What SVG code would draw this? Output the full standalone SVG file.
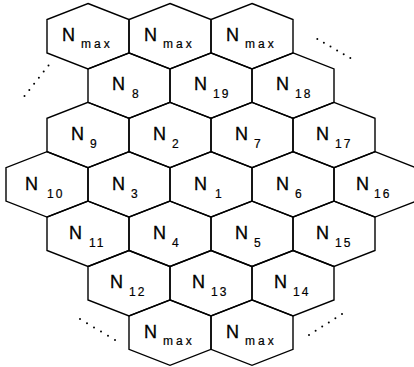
<svg xmlns="http://www.w3.org/2000/svg" xmlns:xlink="http://www.w3.org/1999/xlink" width="414" height="367" viewBox="0 0 414 367">
<style>
.lbl{font-family:"Liberation Sans",Arial,sans-serif;font-size:18px;fill:#000;stroke:#000;stroke-width:0.3}
.sub{font-size:12px;letter-spacing:2px;stroke-width:0.2}
.m{letter-spacing:3px}
.dot{fill:#000}
</style>
<defs>
<polygon id="hex" points="0,-32.7 41,-16.7 41,16.7 0,32.7 -41,16.7 -41,-16.7" fill="none" stroke="#000" stroke-width="1.4" stroke-linejoin="miter"/>
</defs>
<rect width="414" height="367" fill="#fff"/>
<g id="n-max-1"><use href="#hex" x="88" y="36.2"/><text class="lbl" x="62" y="41">N<tspan class="sub m" dx="6" dy="7">max</tspan></text></g>
<g id="n-max-2"><use href="#hex" x="170" y="36.2"/><text class="lbl" x="144" y="41">N<tspan class="sub m" dx="6" dy="7">max</tspan></text></g>
<g id="n-max-3"><use href="#hex" x="252" y="36.2"/><text class="lbl" x="226" y="41">N<tspan class="sub m" dx="6" dy="7">max</tspan></text></g>
<g id="n8"><use href="#hex" x="129" y="85.6"/><text class="lbl" x="112" y="90">N<tspan class="sub" dx="7" dy="7.5">8</tspan></text></g>
<g id="n19"><use href="#hex" x="211" y="85.6"/><text class="lbl" x="194" y="90">N<tspan class="sub" dx="6" dy="7.5">19</tspan></text></g>
<g id="n18"><use href="#hex" x="293" y="85.6"/><text class="lbl" x="276" y="90">N<tspan class="sub" dx="6" dy="7.5">18</tspan></text></g>
<g id="n9"><use href="#hex" x="88" y="135"/><text class="lbl" x="71" y="140">N<tspan class="sub" dx="6" dy="7.5">9</tspan></text></g>
<g id="n2"><use href="#hex" x="170" y="135"/><text class="lbl" x="153" y="140">N<tspan class="sub" dx="6" dy="7.5">2</tspan></text></g>
<g id="n7"><use href="#hex" x="252" y="135"/><text class="lbl" x="235" y="140">N<tspan class="sub" dx="6" dy="7.5">7</tspan></text></g>
<g id="n17"><use href="#hex" x="334" y="135"/><text class="lbl" x="316" y="140">N<tspan class="sub" dx="6" dy="7.5">17</tspan></text></g>
<g id="n10"><use href="#hex" x="47" y="184.4"/><text class="lbl" x="25" y="190">N<tspan class="sub" dx="9" dy="7.5">10</tspan></text></g>
<g id="n3"><use href="#hex" x="129" y="184.4"/><text class="lbl" x="112" y="190">N<tspan class="sub" dx="6" dy="7.5">3</tspan></text></g>
<g id="n1"><use href="#hex" x="211" y="184.4"/><text class="lbl" x="194" y="190">N<tspan class="sub" dx="8" dy="7.5">1</tspan></text></g>
<g id="n6"><use href="#hex" x="293" y="184.4"/><text class="lbl" x="276" y="190">N<tspan class="sub" dx="6" dy="7.5">6</tspan></text></g>
<g id="n16"><use href="#hex" x="375" y="184.4"/><text class="lbl" x="356" y="190">N<tspan class="sub" dx="5" dy="7.5">16</tspan></text></g>
<g id="n11"><use href="#hex" x="88" y="233.8"/><text class="lbl" x="69" y="239">N<tspan class="sub" dx="7" dy="7.5">11</tspan></text></g>
<g id="n4"><use href="#hex" x="170" y="233.8"/><text class="lbl" x="153" y="239">N<tspan class="sub" dx="6" dy="7.5">4</tspan></text></g>
<g id="n5"><use href="#hex" x="252" y="233.8"/><text class="lbl" x="235" y="239">N<tspan class="sub" dx="6" dy="7.5">5</tspan></text></g>
<g id="n15"><use href="#hex" x="334" y="233.8"/><text class="lbl" x="316" y="239">N<tspan class="sub" dx="6" dy="7.5">15</tspan></text></g>
<g id="n12"><use href="#hex" x="129" y="283.2"/><text class="lbl" x="110" y="288">N<tspan class="sub" dx="6" dy="7.5">12</tspan></text></g>
<g id="n13"><use href="#hex" x="211" y="283.2"/><text class="lbl" x="192" y="288">N<tspan class="sub" dx="6" dy="7.5">13</tspan></text></g>
<g id="n14"><use href="#hex" x="293" y="283.2"/><text class="lbl" x="274" y="288">N<tspan class="sub" dx="6" dy="7.5">14</tspan></text></g>
<g id="n-max-4"><use href="#hex" x="170" y="332.6"/><text class="lbl" x="144" y="338">N<tspan class="sub m" dx="6" dy="7">max</tspan></text></g>
<g id="n-max-5"><use href="#hex" x="252" y="332.6"/><text class="lbl" x="226" y="338">N<tspan class="sub m" dx="6" dy="7">max</tspan></text></g>
<g id="connectors">
<g id="dots-tl" class="dot"><circle cx="48.5" cy="65.5" r="1"/><circle cx="43.7" cy="71.6" r="1"/><circle cx="38.9" cy="77.7" r="1"/><circle cx="34.1" cy="83.8" r="1"/><circle cx="29.3" cy="89.9" r="1"/><circle cx="24.5" cy="96" r="1"/></g>
<g id="dots-tr" class="dot"><circle cx="317.3" cy="39" r="1"/><circle cx="323.9" cy="42.8" r="1"/><circle cx="330.5" cy="46.6" r="1"/><circle cx="337.1" cy="50.4" r="1"/><circle cx="343.7" cy="54.2" r="1"/><circle cx="350.3" cy="58" r="1"/></g>
<g id="dots-bl" class="dot"><circle cx="80" cy="319" r="1"/><circle cx="87" cy="323.2" r="1"/><circle cx="94" cy="327.4" r="1"/><circle cx="101" cy="331.6" r="1"/><circle cx="108" cy="335.8" r="1"/><circle cx="115" cy="340" r="1"/></g>
<g id="dots-br" class="dot"><circle cx="309" cy="335" r="1"/><circle cx="315.6" cy="330.8" r="1"/><circle cx="322.2" cy="326.6" r="1"/><circle cx="328.8" cy="322.4" r="1"/><circle cx="335.4" cy="318.2" r="1"/><circle cx="342" cy="314" r="1"/></g>
</g>
</svg>
